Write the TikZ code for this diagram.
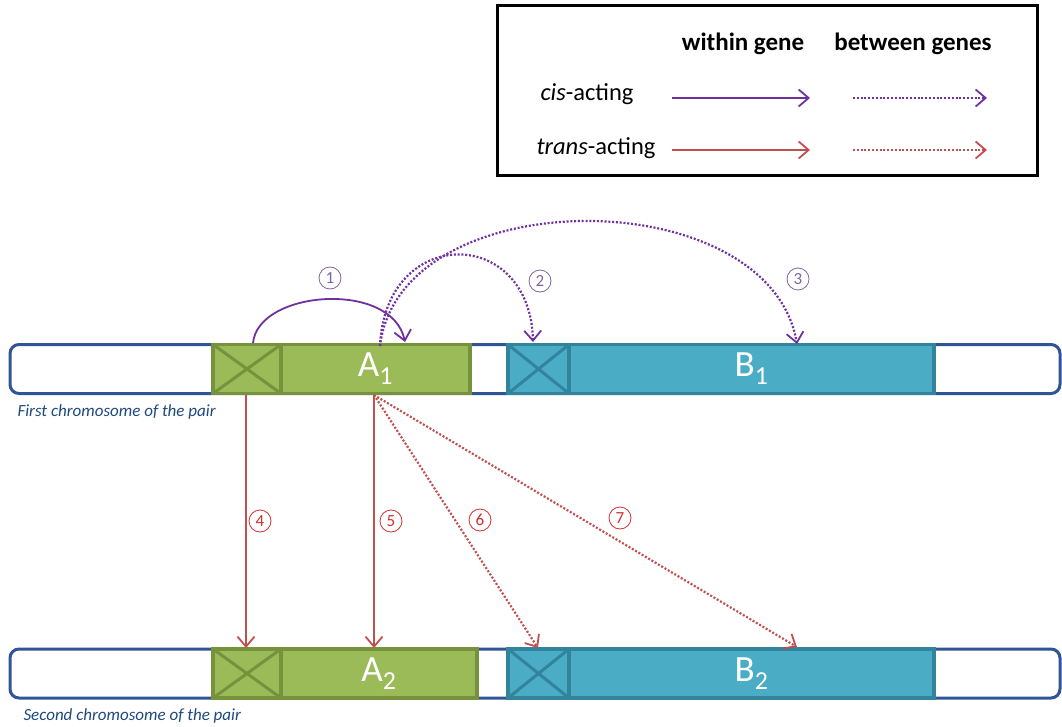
\documentclass[tikz,border=0pt]{standalone}
\usepackage{fontspec}
\setmainfont{Carlito}
\usepackage[dvipsnames]{xcolor}
\usetikzlibrary{arrows.meta,positioning}

\definecolor{cispurple}{HTML}{7030A0}
\definecolor{numpurple}{HTML}{8064A2}
\definecolor{transred}{HTML}{C0504D}
\definecolor{numred}{HTML}{D03030}
\definecolor{genegreen}{HTML}{9BBB59}
\definecolor{greenline}{HTML}{76923C}
\definecolor{geneblue}{HTML}{4BACC6}
\definecolor{blueline}{HTML}{31849B}
\definecolor{chromblue}{HTML}{2F5597}
\definecolor{labelblue}{HTML}{1F497D}

\begin{document}
\begin{tikzpicture}[x=1pt,y=-1pt,>={Straight Barb[length=10pt,width=17pt,line width=1.8pt]},
    chrom/.style={draw=chromblue,line width=3pt,rounded corners=9pt,minimum width=1050pt,minimum height=49pt,inner sep=0pt},
    gene/.style={line width=3.5pt,minimum height=49pt,inner sep=0pt,outer sep=0pt,text=white,font=\fontsize{37}{37}\selectfont},
    green gene/.style={gene,draw=greenline,fill=genegreen},
    blue gene/.style={gene,draw=blueline,fill=geneblue},
    cis/.style={->,draw=cispurple,line width=1.8pt},
    trans/.style={->,draw=transred,line width=1.5pt},
    between/.style={line width=2.2pt,dash pattern=on 2pt off 1.8pt},
    num/.style={circle,draw,line width=0.8pt,minimum size=22pt,inner sep=0pt,font=\fontsize{17}{17}\selectfont},
    chrom label/.style={text=labelblue,font=\fontsize{17}{17}\selectfont\itshape,anchor=west},
    legend text/.style={font=\fontsize{24.5}{24.5}\selectfont}]

    \useasboundingbox (0,0) rectangle (1062,727);

    % legend
    \node[draw,line width=3pt,minimum width=540pt,minimum height=170pt] (legend) at (767,91) {};
    \node[legend text,font=\fontsize{25}{25}\selectfont\bfseries] (within) at (743,44) {within gene};
    \node[legend text,font=\fontsize{25}{25}\selectfont\bfseries] (between) at (913,44) {between genes};
    \node[legend text] (cislabel) at (587,94) {\textit{cis}-acting};
    \node[legend text] (translabel) at (596,148) {\textit{trans}-acting};
    \coordinate (c1) at (672,98);  \coordinate (c2) at (810,98);
    \coordinate (c3) at (853,98);  \coordinate (c4) at (987,98);
    \coordinate (t1) at (672,150); \coordinate (t2) at (810,150);
    \coordinate (t3) at (853,150); \coordinate (t4) at (987,150);
    \draw[cis] (c1) -- (c2);
    \draw[cis,between] (c3) -- (c4);
    \draw[trans] (t1) -- (t2);
    \draw[trans,between] (t3) -- (t4);

    % first chromosome
    \node[chrom] (chr1) at (535,369) {};
    \node[green gene,minimum width=68pt] (pa1) at (247,369) {};
    \node[green gene,minimum width=189pt,right=0pt of pa1] (a1) {A\textsubscript{1}};
    \node[blue gene,minimum width=61pt] (pb1) at (538.5,369) {};
    \node[blue gene,minimum width=365pt,right=0pt of pb1] (b1) {B\textsubscript{1}};
    \draw[greenline,line width=3pt] (pa1.north west) -- (pa1.south east) (pa1.south west) -- (pa1.north east);
    \draw[blueline,line width=3pt] (pb1.north west) -- (pb1.south east) (pb1.south west) -- (pb1.north east);
    \node[chrom label] (first) at (14,412) {First chromosome of the pair};

    % second chromosome
    \node[chrom] (chr2) at (535,673.5) {};
    \node[green gene,minimum width=68pt] (pa2) at (247,673.5) {};
    \node[green gene,minimum width=196pt,right=0pt of pa2] (a2) {A\textsubscript{2}};
    \node[blue gene,minimum width=61pt] (pb2) at (538.5,673.5) {};
    \node[blue gene,minimum width=365pt,right=0pt of pb2] (b2) {B\textsubscript{2}};
    \draw[greenline,line width=3pt] (pa2.north west) -- (pa2.south east) (pa2.south west) -- (pa2.north east);
    \draw[blueline,line width=3pt] (pb2.north west) -- (pb2.south east) (pb2.south west) -- (pb2.north east);
    \node[chrom label] (second) at (20,716) {Second chromosome of the pair};

    % cis-acting
    \coordinate (s1) at (253,343);
    \coordinate (e1) at (405,342);
    \coordinate (s2) at (380,346);
    \coordinate (e2) at (533,342);
    \coordinate (e3) at (797,344);
    \draw[cis] (s1) .. controls (258,290) and (392,280) .. (e1);
    \draw[cis,between] (s2) .. controls (385,225) and (530,225) .. (e2);
    \draw[cis,between] (s2) .. controls (400,180) and (768,180) .. (e3);
    \node[num,draw=numpurple,text=numpurple] (n1) at (330,278) {1};
    \node[num,draw=numpurple,text=numpurple] (n2) at (540,281) {2};
    \node[num,draw=numpurple,text=numpurple] (n3) at (798,279) {3};

    % trans-acting
    \coordinate (s4) at (246,395);
    \coordinate (e4) at (246,648);
    \coordinate (s5) at (374,395);
    \coordinate (e5) at (374,648);
    \coordinate (e6) at (538,648);
    \coordinate (e7) at (797,647);
    \draw[trans] (s4) -- (e4);
    \draw[trans] (s5) -- (e5);
    \draw[trans,between] (s5) -- (e6);
    \draw[trans,between] (s5) -- (e7);
    \node[num,draw=numred,text=numred] (n4) at (260,521) {4};
    \node[num,draw=numred,text=numred] (n5) at (391,521) {5};
    \node[num,draw=numred,text=numred] (n6) at (480,520) {6};
    \node[num,draw=numred,text=numred] (n7) at (620,518) {7};

\end{tikzpicture}
\end{document}
